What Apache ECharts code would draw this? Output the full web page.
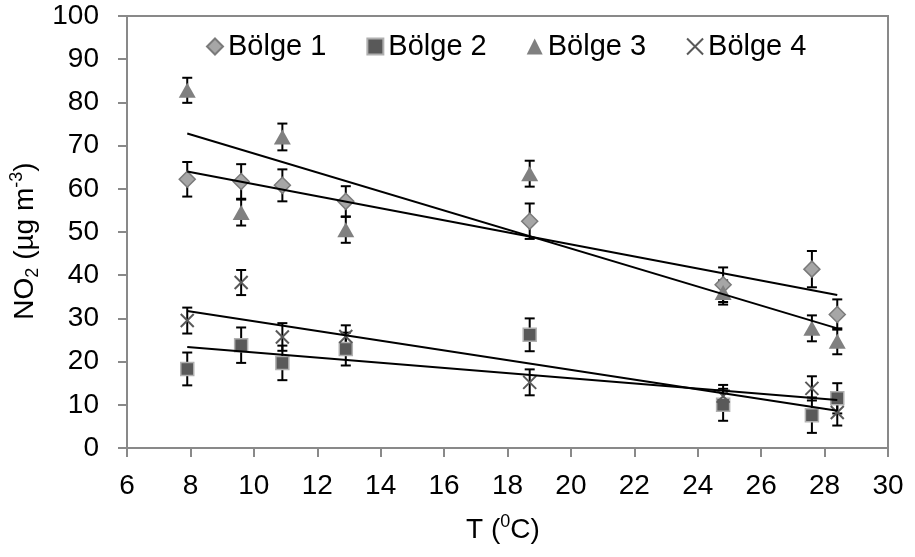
<!DOCTYPE html>
<html>
<head>
<meta charset="utf-8">
<script src="https://cdn.jsdelivr.net/npm/echarts@6/dist/echarts.min.js"></script>
<style>html,body{margin:0;padding:0;background:#fff;}#c{width:915px;height:557px;}</style>
</head>
<body>
<div id="c"></div>
<script>
const xT = [7.9, 9.6, 10.9, 12.9, 18.7, 24.8, 27.6, 28.4];
const b1 = [62.2, 61.7, 60.8, 57.1, 52.5, 37.8, 41.4, 30.9];
const b1Err = [4.0, 4.0, 3.7, 3.5, 4.1, 4.0, 4.2, 3.5];
const b2 = [18.3, 23.8, 19.7, 22.9, 26.2, 10.0, 7.6, 11.5];
const b2Err = [3.8, 4.1, 4.0, 3.8, 3.8, 3.7, 4.1, 3.5];
const b3 = [82.8, 54.5, 72.0, 50.5, 63.5, 36.0, 27.7, 24.7];
const b3Err = [2.9, 3.0, 3.1, 3.0, 3.0, 2.8, 3.0, 3.0];
const b4 = [29.5, 38.3, 25.7, 25.8, 15.2, 12.0, 13.8, 8.2];
const b4Err = [3.0, 2.9, 3.2, 2.6, 3.0, 2.6, 2.8, 3.0];
const xTrend = [7.9, 28.4];
const t1 = [64.0, 35.4];
const t2 = [23.4, 11.1];
const t3 = [72.8, 27.7];
const t4 = [31.7, 8.6];
const names = ['Bölge 1', 'Bölge 2', 'Bölge 3', 'Bölge 4'];
const xTicks = [6, 30, 2];
const yTicks = [0, 100, 10];

const FONT = 'Liberation Sans, Arial, sans-serif';
const AX = '#898989';

const pts = (ys) => xT.map((x, i) => [x, ys[i]]);
const errs = (ys, es) => xT.map((x, i) => [x, ys[i] - es[i], ys[i] + es[i]]);
const trend = (ys) => xTrend.map((x, i) => [x, ys[i]]);

function errRender(params, api) {
  const x = api.value(0), lo = api.value(1), hi = api.value(2);
  const a = api.coord([x, hi]), b = api.coord([x, lo]);
  const w = 5;
  const st = { stroke: '#000', lineWidth: 2 };
  return {
    type: 'group',
    children: [
      { type: 'line', shape: { x1: a[0], y1: a[1], x2: b[0], y2: b[1] }, style: st },
      { type: 'line', shape: { x1: a[0] - w, y1: a[1], x2: a[0] + w, y2: a[1] }, style: st },
      { type: 'line', shape: { x1: b[0] - w, y1: b[1], x2: b[0] + w, y2: b[1] }, style: st }
    ]
  };
}
function errSeries(ys, es) {
  return { type: 'custom', renderItem: errRender, data: errs(ys, es), encode: { x: 0, y: [1, 2] }, z: 2, silent: true };
}
function trendSeries(ys) {
  return { type: 'line', data: trend(ys), showSymbol: false, symbol: 'none', lineStyle: { color: '#000', width: 2 }, z: 5, silent: true };
}

const chart = echarts.init(document.getElementById('c'), null, { renderer: 'canvas' });
chart.setOption({
  animation: false,
  backgroundColor: '#fff',
  textStyle: { fontFamily: FONT },
  grid: { left: 127, right: 27, top: 16, bottom: 109, show: true, borderColor: AX, borderWidth: 2, backgroundColor: 'transparent' },
  legend: {
    data: names,
    left: 201, top: 27,
    itemWidth: 16, itemHeight: 16, itemGap: 40,
    textStyle: { fontFamily: FONT, fontSize: 29, color: '#000' }
  },
  xAxis: {
    type: 'value', min: xTicks[0], max: xTicks[1], interval: xTicks[2],
    splitLine: { show: false },
    axisLine: { show: true, onZero: false, lineStyle: { color: AX, width: 2 } },
    axisTick: { show: true, inside: false, length: 9, lineStyle: { color: AX, width: 2 } },
    axisLabel: { fontFamily: FONT, fontSize: 28, color: '#000', margin: 24 }
  },
  yAxis: {
    type: 'value', min: yTicks[0], max: yTicks[1], interval: yTicks[2],
    splitLine: { show: false },
    axisLine: { show: true, onZero: false, lineStyle: { color: AX, width: 2 } },
    axisTick: { show: true, inside: false, length: 9, lineStyle: { color: AX, width: 2 } },
    axisLabel: { fontFamily: FONT, fontSize: 28, color: '#000', margin: 28 }
  },
  graphic: [
    {
      type: 'text', x: 25, y: 241, rotation: Math.PI / 2,
      style: {
        text: '{a|NO}{sub|2}{a| (µg m}{sup|-3}{a|)}',
        textAlign: 'center', textVerticalAlign: 'middle',
        rich: {
          a: { fontFamily: FONT, fontSize: 28, color: '#000', lineHeight: 34, verticalAlign: 'middle' },
          sub: { fontFamily: FONT, fontSize: 18, color: '#000', lineHeight: 17, verticalAlign: 'bottom' },
          sup: { fontFamily: FONT, fontSize: 18, color: '#000', lineHeight: 22, verticalAlign: 'top' }
        }
      }
    },
    {
      type: 'text', x: 503, y: 530,
      style: {
        text: '{a|T (}{sup|0}{a|C)}',
        textAlign: 'center', textVerticalAlign: 'middle',
        rich: {
          a: { fontFamily: FONT, fontSize: 28, color: '#000', lineHeight: 34, verticalAlign: 'middle' },
          sup: { fontFamily: FONT, fontSize: 18, color: '#000', lineHeight: 22, verticalAlign: 'top' }
        }
      }
    }
  ],
  series: [
    errSeries(b1, b1Err), errSeries(b2, b2Err), errSeries(b3, b3Err), errSeries(b4, b4Err),
    { name: names[0], type: 'scatter', data: pts(b1), symbol: 'diamond', symbolSize: 16, z: 3,
      itemStyle: { color: '#a6a6a6', borderColor: '#7a7a7a', borderWidth: 1.5, opacity: 1 } },
    { name: names[1], type: 'scatter', data: pts(b2), symbol: 'rect', symbolSize: 13, z: 3,
      itemStyle: { color: '#595959', borderColor: '#b0b0b0', borderWidth: 1.5, opacity: 1 } },
    { name: names[2], type: 'scatter', data: pts(b3), symbol: 'triangle', symbolSize: [17, 15], z: 3,
      itemStyle: { color: '#808080', opacity: 1 } },
    { name: names[3], type: 'scatter', data: pts(b4), symbol: 'path://M0,0L10,10M0,10L10,0', symbolSize: 13, z: 3,
      itemStyle: { color: 'rgba(0,0,0,0)', borderColor: '#595959', borderWidth: 2, opacity: 1 } },
    trendSeries(t1), trendSeries(t2), trendSeries(t3), trendSeries(t4)
  ]
});
</script>
</body>
</html>
